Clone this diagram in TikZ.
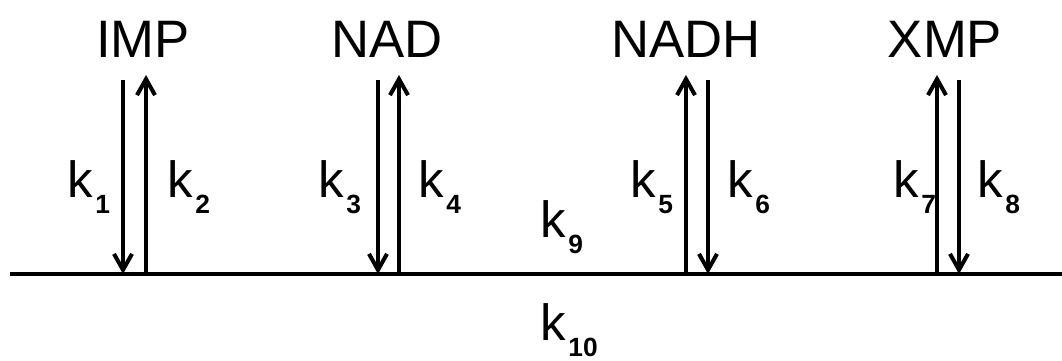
\documentclass[tikz,border=0pt]{standalone}
\usepackage{fontspec}
\setmainfont{Liberation Sans}
\usetikzlibrary{arrows.meta}
\newcommand{\rate}[1]{k\kern1.5pt\raisebox{-0.32cm}{\fontsize{15}{15}\selectfont\bfseries #1}}

\begin{document}
\begin{tikzpicture}[x=0.02cm,y=-0.02cm,
  lbl/.style={font=\fontsize{30}{36}\selectfont,inner sep=0pt,anchor=base},
  kl/.style={font=\fontsize{29}{34}\selectfont,inner sep=0pt,anchor=base west},
  arr/.style={-{Straight Barb[length=3.2mm,width=3.6mm]},line width=2.3pt}]
\useasboundingbox (0,0) rectangle (1062,360);
% species
\node[lbl] (imp) at (143,57) {IMP};
\node[lbl] (nad) at (387,57) {NAD};
\node[lbl] (nadh) at (686,57) {NADH};
\node[lbl] (xmp) at (945,57) {XMP};
% base line
\coordinate (l) at (10,274);
\coordinate (r) at (1062,274);
\draw[line width=2.6pt] (l) -- (r);
% arrow ends
\foreach \n/\x/\t in {1/123/80,2/146/75,3/378/80,4/399/75,5/686/75,6/708/80,7/937/75,8/959/80}{
  \coordinate (t\n) at (\x,\t);
  \coordinate (b\n) at (\x,274);
}
\draw[arr] (t1) -- (b1); \draw[arr] (b2) -- (t2);
\draw[arr] (t3) -- (b3); \draw[arr] (b4) -- (t4);
\draw[arr] (b5) -- (t5); \draw[arr] (t6) -- (b6);
\draw[arr] (b7) -- (t7); \draw[arr] (t8) -- (b8);
% rate constants
\node[kl] (k1) at (67,197) {\rate{1}};
\node[kl] (k2) at (167,197) {\rate{2}};
\node[kl] (k3) at (318,197) {\rate{3}};
\node[kl] (k4) at (418,197) {\rate{4}};
\node[kl] (k5) at (630,197) {\rate{5}};
\node[kl] (k6) at (727,197) {\rate{6}};
\node[kl] (k7) at (893,197) {\rate{7}};
\node[kl] (k8) at (977,197) {\rate{8}};
\node[kl] (k9) at (540,237) {\rate{9}};
\node[kl] (k10) at (540,340) {\rate{10}};
\end{tikzpicture}
\end{document}
